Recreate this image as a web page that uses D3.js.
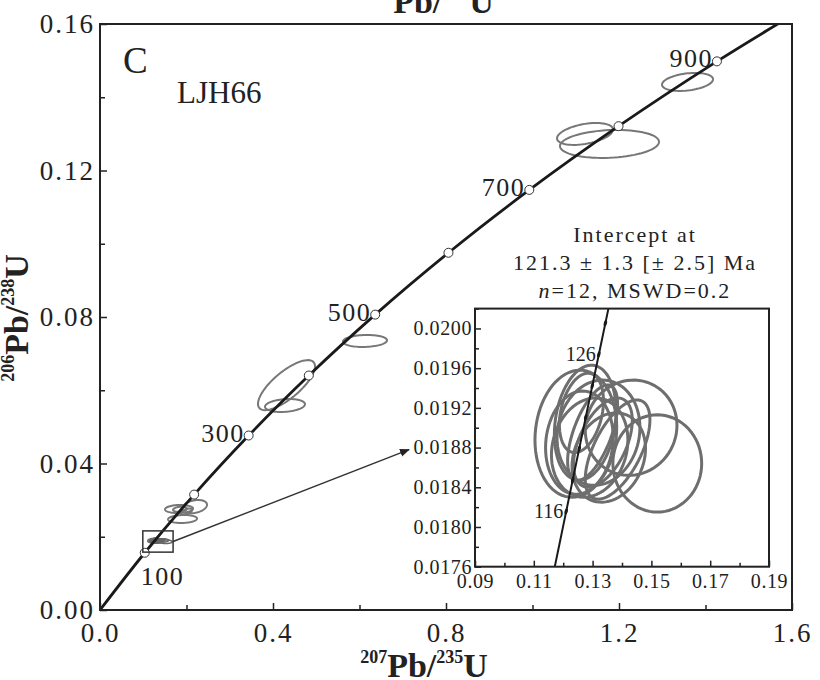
<!DOCTYPE html>
<html>
<head>
<meta charset="utf-8">
<script src="https://cdn.jsdelivr.net/npm/d3@7"></script>
<style>
  body { margin: 0; background: #fff; }
  svg { display: block; font-family: "Liberation Serif", "Times New Roman", Times, "DejaVu Serif", serif; }
  svg text { font-family: "Liberation Serif", "Times New Roman", Times, "DejaVu Serif", serif; }
</style>
</head>
<body>
<svg width="820" height="680"></svg>
<script>
// concordia reference points (Ma) and their ratios
const concAges = [0, 100, 200, 300, 400, 500, 600, 700, 800, 900, 1000];
const concX = [0, 0.1035, 0.2177, 0.3437, 0.4828, 0.6363, 0.8057, 0.9926, 1.1989, 1.4264, 1.6774];
const concY = [0, 0.01563, 0.03151, 0.04764, 0.06402, 0.08065, 0.09754, 0.1147, 0.1321, 0.1498, 0.1678];
const concLabels = [100, 300, 500, 700, 900];

// concordia points in the zoomed window
const insetAges = [112, 114, 116, 118, 120, 122, 124, 126, 128, 130];
const insetX = [0.11662, 0.11882, 0.12102, 0.12323, 0.12545, 0.12767, 0.12989, 0.13212, 0.13435, 0.13659];
const insetY = [0.017526, 0.017842, 0.018157, 0.018473, 0.018789, 0.019106, 0.019422, 0.019738, 0.020054, 0.020371];
const insetLabels = [116, 126];

// the 12 concordant spots (x, y, half extents, correlation)
const spotX = [0.1243, 0.1520, 0.1431, 0.1320, 0.1275, 0.1290, 0.1300, 0.1335, 0.1262, 0.1355, 0.1385, 0.1255];
const spotY = [0.01894, 0.01864, 0.01900, 0.01895, 0.01905, 0.01880, 0.01895, 0.01885, 0.01915, 0.01870, 0.01878, 0.01885];
const spotSx = [0.0139, 0.0151, 0.0156, 0.0141, 0.0105, 0.0130, 0.0085, 0.0100, 0.0075, 0.0125, 0.0110, 0.0115];
const spotSy = [0.00064, 0.00049, 0.00048, 0.00053, 0.00058, 0.00050, 0.00048, 0.00045, 0.00040, 0.00045, 0.00050, 0.00052];
const spotRho = [0.1, 0, 0.05, 0.1, 0.2, 0.15, 0.6, 0.5, 0.3, 0.2, 0.6, 0.1];

// older inherited grains
const grainX = [0.1827, 0.2185, 0.1908, 0.1850, 0.2000, 0.4312, 0.4277, 0.6127, 1.1214, 1.1780, 1.3584];
const grainY = [0.02758, 0.02821, 0.02485, 0.02750, 0.02690, 0.0614, 0.05584, 0.07346, 0.12998, 0.12725, 0.14418];
const grainSx = [0.0324, 0.0289, 0.0335, 0.0160, 0.0130, 0.0659, 0.0462, 0.0509, 0.0647, 0.1145, 0.0590];
const grainSy = [0.0011, 0.00182, 0.00109, 0.0007, 0.0008, 0.00683, 0.00177, 0.00164, 0.0030, 0.00382, 0.00246];
const grainRho = [0.1, 0.3, 0.1, 0.2, 0.5, 0.75, 0.2, 0.1, 0.4, 0.15, 0.3];

const xTicks = [0, 0.4, 0.8, 1.2, 1.6];
const xMinor = [0.2, 0.6, 1.0, 1.4];
const yTicks = [0, 0.04, 0.08, 0.12, 0.16];
const yMinor = [0.02, 0.06, 0.10, 0.14];
const inXTicks = [0.09, 0.11, 0.13, 0.15, 0.17, 0.19];
const inXMinor = [0.10, 0.12, 0.14, 0.16, 0.18];
const inYTicks = [0.0176, 0.0180, 0.0184, 0.0188, 0.0192, 0.0196, 0.0200];
const inYMinor = [0.0178, 0.0182, 0.0186, 0.0190, 0.0194, 0.0198, 0.0202];

const zoomBox = [[0.099, 0.0158], [0.169, 0.0216]];
const insetText = ["Intercept at", "121.3 \u00b1 1.3 [\u00b1 2.5] Ma"];

const serif = "Liberation Serif, Times New Roman, serif";
const svg = d3.select("svg");

const x = d3.scaleLinear().domain([0, 1.6]).range([100, 792]);
const y = d3.scaleLinear().domain([0, 0.16]).range([610, 24]);

const xi = d3.scaleLinear().domain([0.09, 0.19]).range([475, 769]);
const yi = d3.scaleLinear().domain([0.0176, 0.0202]).range([566.7, 308.6]);

function ellipsePath(sx, sy, cx, cy, ex, ey, rho) {
  const pts = d3.range(0, 73).map(i => {
    const t = i / 72 * 2 * Math.PI;
    const dx = ex * Math.cos(t);
    const dy = ey * (rho * Math.cos(t) + Math.sqrt(1 - rho * rho) * Math.sin(t));
    return [sx(cx + dx), sy(cy + dy)];
  });
  return d3.line().curve(d3.curveLinearClosed)(pts);
}

svg.append("defs").append("clipPath").attr("id", "mainClip")
  .append("rect").attr("x", 100).attr("y", 24).attr("width", 692).attr("height", 586);
svg.select("defs").append("clipPath").attr("id", "insetClip")
  .append("rect").attr("x", 475).attr("y", 308.6).attr("width", 294).attr("height", 258.1);
svg.select("defs").append("marker")
  .attr("id", "arrow").attr("viewBox", "0 0 10 10").attr("refX", 9).attr("refY", 5)
  .attr("markerWidth", 10).attr("markerHeight", 10).attr("markerUnits", "userSpaceOnUse")
  .attr("orient", "auto")
  .append("path").attr("d", "M0,1 L10,5 L0,9 Z").attr("fill", "#222");

// ----- main plot -----
const main = svg.append("g").attr("clip-path", "url(#mainClip)");

main.selectAll(".grain")
  .data(grainX.map((d, i) => i))
  .enter().append("path")
  .attr("d", i => ellipsePath(x, y, grainX[i], grainY[i], grainSx[i], grainSy[i], grainRho[i]))
  .attr("fill", "none").attr("stroke", "#777").attr("stroke-width", 2);

main.selectAll(".spot")
  .data(spotX.map((d, i) => i))
  .enter().append("path")
  .attr("d", i => ellipsePath(x, y, spotX[i], spotY[i], spotSx[i], spotSy[i], spotRho[i]))
  .attr("fill", "none").attr("stroke", "#666").attr("stroke-width", 1.5);

main.append("path")
  .attr("d", d3.line().curve(d3.curveMonotoneX).x((d, i) => x(concX[i])).y((d, i) => y(concY[i]))(concAges))
  .attr("fill", "none").attr("stroke", "#1a1a1a").attr("stroke-width", 2.8);

const markAges = concAges.filter(a => a > 0 && a < 1000);
main.selectAll(".age")
  .data(markAges)
  .enter().append("circle")
  .attr("cx", a => x(concX[concAges.indexOf(a)]))
  .attr("cy", a => y(concY[concAges.indexOf(a)]))
  .attr("r", 4.5)
  .attr("fill", "#fff").attr("stroke", "#333").attr("stroke-width", 1);

svg.selectAll(".ageLabel")
  .data(concLabels)
  .enter().append("text")
  .attr("x", a => a === 100 ? x(concX[1]) - 4 : x(concX[concAges.indexOf(a)]) - 4)
  .attr("y", a => a === 100 ? y(concY[1]) + 32 : y(concY[concAges.indexOf(a)]) + 6)
  .attr("text-anchor", a => a === 100 ? "start" : "end")
  .attr("font-family", serif)
  .attr("font-size", 26).attr("letter-spacing", 1.5).attr("fill", "#222")
  .text(a => a);

// zoom box and arrow
svg.append("rect")
  .attr("x", x(zoomBox[0][0])).attr("y", y(zoomBox[1][1]))
  .attr("width", x(zoomBox[1][0]) - x(zoomBox[0][0]))
  .attr("height", y(zoomBox[0][1]) - y(zoomBox[1][1]))
  .attr("fill", "none").attr("stroke", "#333").attr("stroke-width", 1.5);

svg.append("line")
  .attr("x1", x(zoomBox[1][0])).attr("y1", y((zoomBox[0][1] + zoomBox[1][1]) / 2))
  .attr("x2", xi.range()[0] - 66).attr("y2", yi(0.0188) + 2)
  .attr("stroke", "#333").attr("stroke-width", 1.5)
  .attr("marker-end", "url(#arrow)");

// main axes
const tickFont = g => g.selectAll("text")
  .attr("font-family", serif).attr("font-size", 27)
  .attr("letter-spacing", 2).attr("fill", "#222");

svg.append("g").attr("transform", "translate(0,610)")
  .call(d3.axisBottom(x).tickValues(xTicks).tickFormat(d3.format(".1f")).tickSize(-7).tickPadding(13))
  .call(tickFont);
svg.append("g").attr("transform", "translate(0,610)")
  .call(d3.axisBottom(x).tickValues(xMinor).tickFormat("").tickSize(-5));
svg.append("g").attr("transform", "translate(100,0)")
  .call(d3.axisLeft(y).tickValues(yTicks).tickFormat(d3.format(".2f")).tickSize(-7).tickPadding(5))
  .call(tickFont);
svg.append("g").attr("transform", "translate(100,0)")
  .call(d3.axisLeft(y).tickValues(yMinor).tickFormat("").tickSize(-5));

svg.selectAll(".domain").remove();
svg.selectAll(".tick line").attr("stroke", "#222").attr("stroke-width", 1.5);

svg.append("rect")
  .attr("x", 100).attr("y", 24).attr("width", 692).attr("height", 586)
  .attr("fill", "none").attr("stroke", "#222").attr("stroke-width", 2);

// panel labels
svg.append("text").attr("x", 123).attr("y", 73).attr("font-family", serif)
  .attr("font-size", 37).attr("fill", "#222").text("C");
svg.append("text").attr("x", 177).attr("y", 103).attr("font-family", serif)
  .attr("font-size", 31).attr("fill", "#222").text("LJH66");

// axis titles
function ratioTitle(sel, top, bottom) {
  sel.append("tspan").attr("font-size", 18).attr("dy", -14).text(top);
  sel.append("tspan").attr("font-size", 34).attr("dy", 14).text("Pb/");
  sel.append("tspan").attr("font-size", 18).attr("dy", -14).text(bottom);
  sel.append("tspan").attr("font-size", 34).attr("dy", 14).text("U");
}
svg.append("text").attr("x", 424).attr("y", 677).attr("text-anchor", "middle")
  .attr("font-family", serif).attr("font-weight", "bold").attr("fill", "#222")
  .call(ratioTitle, "207", "235");
svg.append("text").attr("x", 430).attr("y", 13).attr("text-anchor", "middle")
  .attr("font-family", serif).attr("font-weight", "bold").attr("fill", "#222")
  .call(ratioTitle, "207", "235");
svg.append("text").attr("transform", "translate(28,318) rotate(-90)").attr("text-anchor", "middle")
  .attr("font-family", serif).attr("font-weight", "bold").attr("fill", "#222")
  .call(ratioTitle, "206", "238");

// ----- inset -----
svg.append("rect")
  .attr("x", 475).attr("y", 308.6).attr("width", 294).attr("height", 258.1)
  .attr("fill", "#fff");

const inset = svg.append("g").attr("clip-path", "url(#insetClip)");

inset.selectAll(".spot")
  .data(spotX.map((d, i) => i))
  .enter().append("path")
  .attr("d", i => ellipsePath(xi, yi, spotX[i], spotY[i], spotSx[i], spotSy[i], spotRho[i]))
  .attr("fill", "none").attr("stroke", "#6e6e6e").attr("stroke-width", 3);

inset.append("path")
  .attr("d", d3.line().x((d, i) => xi(insetX[i])).y((d, i) => yi(insetY[i]))(insetAges))
  .attr("fill", "none").attr("stroke", "#1a1a1a").attr("stroke-width", 2);

inset.selectAll(".tickMark")
  .data(insetAges.filter(a => a > 114 && a < 130))
  .enter().append("ellipse")
  .attr("cx", a => xi(insetX[insetAges.indexOf(a)]))
  .attr("cy", a => yi(insetY[insetAges.indexOf(a)]))
  .attr("rx", 1.6).attr("ry", 3.2)
  .attr("transform", a => `rotate(14,${xi(insetX[insetAges.indexOf(a)])},${yi(insetY[insetAges.indexOf(a)])})`)
  .attr("fill", "#1a1a1a");

svg.selectAll(".inLabel")
  .data(insetLabels)
  .enter().append("text")
  .attr("x", a => xi(insetX[insetAges.indexOf(a)]) - 3)
  .attr("y", a => yi(insetY[insetAges.indexOf(a)]) + 7)
  .attr("text-anchor", "end")
  .attr("font-family", serif)
  .attr("font-size", 20).attr("fill", "#222")
  .text(a => a);

const inFont = g => g.selectAll("text")
  .attr("font-family", serif).attr("font-size", 20)
  .attr("letter-spacing", 0.6).attr("fill", "#222");

const insetAxes = svg.append("g");
insetAxes.append("g").attr("transform", "translate(0,566.7)")
  .call(d3.axisBottom(xi).tickValues(inXTicks).tickFormat(d3.format(".2f")).tickSize(-6).tickPadding(7))
  .call(inFont);
insetAxes.append("g").attr("transform", "translate(0,566.7)")
  .call(d3.axisBottom(xi).tickValues(inXMinor).tickFormat("").tickSize(-4));
insetAxes.append("g").attr("transform", "translate(475,0)")
  .call(d3.axisLeft(yi).tickValues(inYTicks).tickFormat(d3.format(".4f")).tickSize(-6).tickPadding(3))
  .call(inFont);
insetAxes.append("g").attr("transform", "translate(475,0)")
  .call(d3.axisLeft(yi).tickValues(inYMinor).tickFormat("").tickSize(-4));
insetAxes.selectAll(".domain").remove();
insetAxes.selectAll(".tick line").attr("stroke", "#222").attr("stroke-width", 1.5);

svg.append("rect")
  .attr("x", 475).attr("y", 308.6).attr("width", 294).attr("height", 258.1)
  .attr("fill", "none").attr("stroke", "#222").attr("stroke-width", 2);

// intercept annotation
const note = svg.append("g").attr("font-family", serif).attr("font-size", 22)
  .attr("letter-spacing", 2).attr("fill", "#222").attr("text-anchor", "middle");
note.append("text").attr("x", 635).attr("y", 242).text(insetText[0]);
note.append("text").attr("x", 635).attr("y", 270).text(insetText[1]);
const n3 = note.append("text").attr("x", 635).attr("y", 298);
n3.append("tspan").attr("font-style", "italic").text("n");
n3.append("tspan").text("=12, MSWD=0.2");
</script>
</body>
</html>
